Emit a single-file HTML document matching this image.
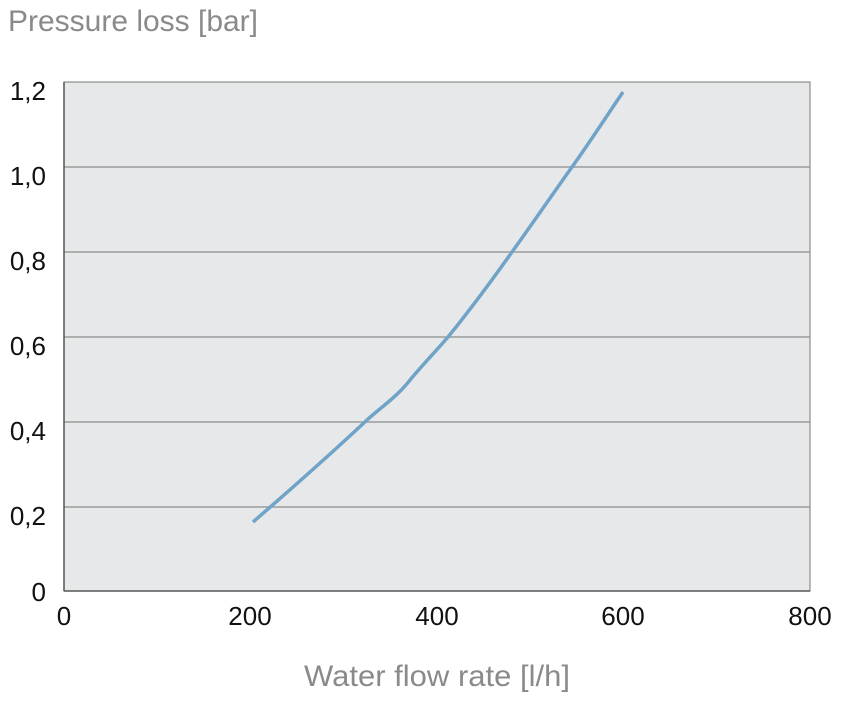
<!DOCTYPE html>
<html><head><style>
body{margin:0;background:#fff;width:850px;height:704px;overflow:hidden}
</style></head><body>
<svg width="850" height="704" xmlns="http://www.w3.org/2000/svg" font-family="Liberation Sans, sans-serif">
<text x="8" y="31" font-size="30" fill="#8a8a8a" textLength="250" lengthAdjust="spacingAndGlyphs">Pressure loss [bar]</text>
<rect x="64" y="82" width="746" height="509" fill="#e7e8e9" stroke="#777" stroke-width="1"/>
<g stroke="#9a9a9a" stroke-width="1.5">
<line x1="64" x2="810" y1="167" y2="167"/>
<line x1="64" x2="810" y1="252" y2="252"/>
<line x1="64" x2="810" y1="337" y2="337"/>
<line x1="64" x2="810" y1="422" y2="422"/>
<line x1="64" x2="810" y1="507" y2="507"/>
</g>
<line x1="64" x2="810" y1="591" y2="591" stroke="#555" stroke-width="1.5"/>
<line x1="64" x2="64" y1="82" y2="591" stroke="#555" stroke-width="1.5"/>
<g font-size="26" fill="#111" text-anchor="end">
<text x="46" y="100">1,2</text>
<text x="46" y="185">1,0</text>
<text x="46" y="270">0,8</text>
<text x="46" y="355">0,6</text>
<text x="46" y="440">0,4</text>
<text x="46" y="525">0,2</text>
<text x="46" y="601">0</text>
</g>
<g font-size="26" fill="#111" text-anchor="middle">
<text x="64" y="625">0</text>
<text x="250" y="625">200</text>
<text x="437" y="625">400</text>
<text x="623" y="625">600</text>
<text x="810" y="625">800</text>
</g>
<text x="304" y="686" font-size="30" fill="#8a8a8a" textLength="266" lengthAdjust="spacingAndGlyphs">Water flow rate [l/h]</text>
<path d="M253,522 C290,490 335,450 367,420 C380,408 398,396 410,380 C425,362 437,350 448,337 C470,310 490,283 512,252 C535,220 552,195 572,167 C590,142 606,117 623,92" fill="none" stroke="#6fa3c7" stroke-width="3.5"/>
</svg>
</body></html>
